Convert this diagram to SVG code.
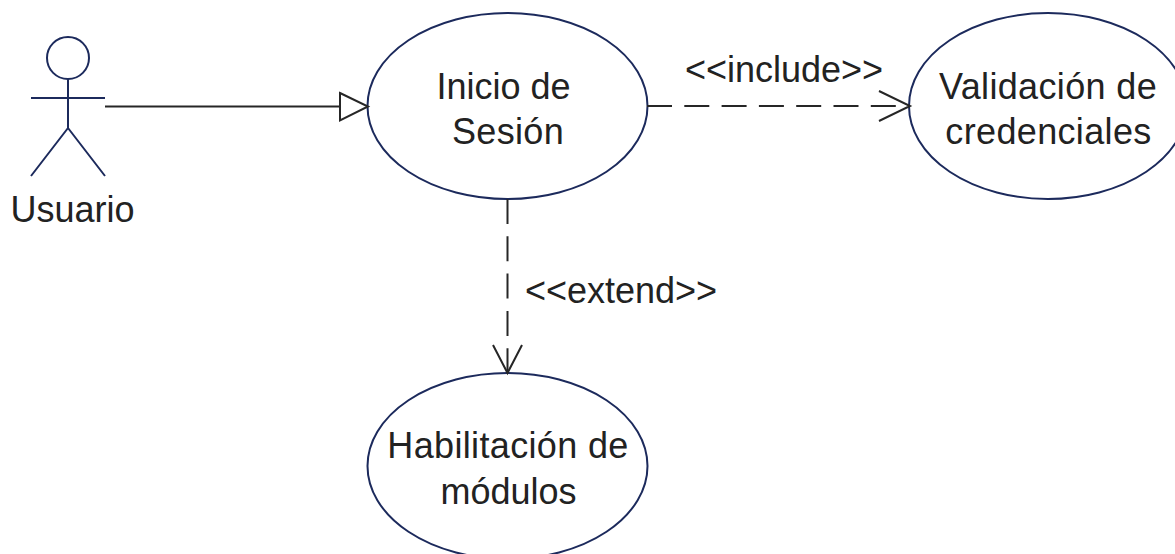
<svg xmlns="http://www.w3.org/2000/svg" width="1175" height="554" viewBox="0 0 1175 554">
<style>
.n{fill:none;stroke:#1c2a5c;stroke-width:2}
.c{fill:none;stroke:#262626;stroke-width:2}
.d{stroke-dasharray:25 12.3}
.t{font-family:"Liberation Sans",Arial,sans-serif;font-size:36px;fill:#222;text-anchor:middle}
.w{letter-spacing:.35px}
</style>
<rect width="1175" height="554" fill="#fff"/>
<g id="actor-usuario">
<circle class="n" cx="68" cy="58" r="21"/>
<path class="n" d="M68 79V128M31 98H105M68 128L31 176M68 128L105 176"/>
<text class="t" x="72.500" y="222">Usuario</text>
</g>
<g id="uc-inicio">
<ellipse class="n" cx="507.500" cy="106" rx="140" ry="93"/>
<text class="t" x="503.500" y="98.500">Inicio de</text>
<text class="t w" x="508" y="143.500">Sesión</text>
</g>
<g id="uc-validacion">
<ellipse class="n" cx="1048" cy="106" rx="139" ry="93"/>
<text class="t w" x="1048" y="98.500">Validación de</text>
<text class="t w" x="1048.500" y="143.500">credenciales</text>
</g>
<g id="uc-habilitacion">
<ellipse class="n" cx="507.500" cy="466" rx="140" ry="93"/>
<text class="t w" x="508" y="458">Habilitación de</text>
<text class="t" x="508.500" y="503.500">módulos</text>
</g>
<g id="connectors">
<path class="c" d="M105 106.500H340"/>
<path class="c" d="M340 93L368 106.500L340 120.500Z"/>
<path class="c d" d="M647 106H909"/>
<path class="c" d="M879 91L910 106L879 121"/>
<path class="c d" d="M507.500 199V373"/>
<path class="c" d="M493 345L507.500 373L522 345"/>
<text class="t" x="784" y="81.500">&lt;&lt;include&gt;&gt;</text>
<text class="t" x="621" y="302.500">&lt;&lt;extend&gt;&gt;</text>
</g>
</svg>
